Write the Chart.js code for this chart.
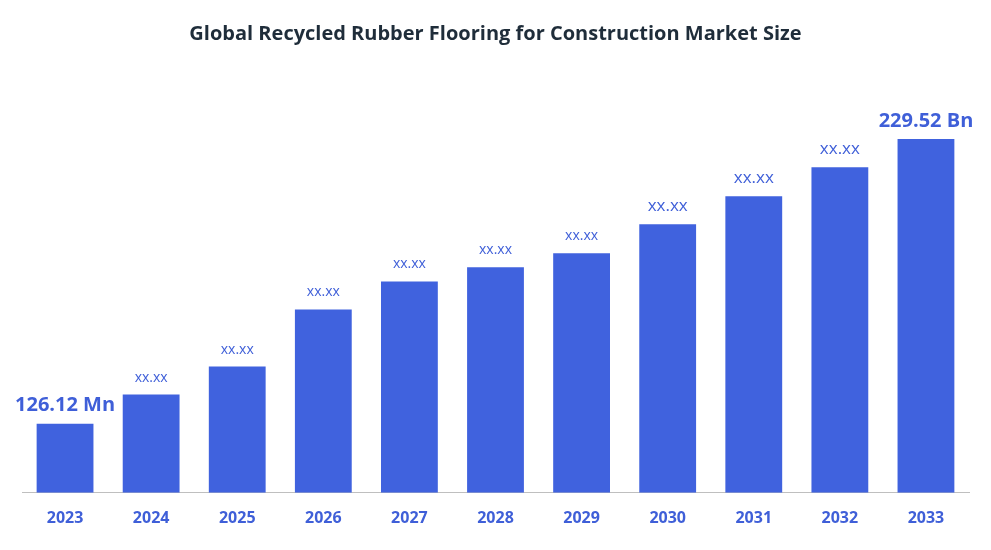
<!DOCTYPE html>
<html>
<head>
<meta charset="utf-8">
<script src="https://cdn.jsdelivr.net/npm/chart.js@4"></script>
<style>
  body { margin: 0; background: #fff; }
  #wrap { width: 991px; height: 550px; position: relative; }
</style>
</head>
<body>
<div id="wrap"><canvas id="chart"></canvas></div>
<script>
// Market size bars (relative heights)
const years = ['2023', '2024', '2025', '2026', '2027', '2028', '2029', '2030', '2031', '2032', '2033'];
const sizes = [69, 98, 126, 183, 211, 225, 239, 268, 296, 325, 353];
const barLabels = ['126.12 Mn', 'xx.xx', 'xx.xx', 'xx.xx', 'xx.xx', 'xx.xx', 'xx.xx', 'xx.xx', 'xx.xx', 'xx.xx', '229.52 Bn'];
const labelSizes = [20, 14, 14, 14, 14, 14, 14, 17, 17, 17, 20];

const blue = '#4062DE';
const textBlue = '#3F5FD8';

// Draw the value labels above each bar
const valueLabels = {
    id: 'valueLabels',
    afterDatasetsDraw(chart) {
        const ctx = chart.ctx;
        const meta = chart.getDatasetMeta(0);
        ctx.save();
        ctx.textAlign = 'center';
        ctx.textBaseline = 'bottom';
        meta.data.forEach((bar, i) => {
            const big = labelSizes[i] >= 20;
            ctx.font = (big ? 'bold ' : '') + labelSizes[i] + 'px "Open Sans", sans-serif';
            ctx.fillStyle = textBlue;
            ctx.fillText(barLabels[i], bar.x, bar.y - (big ? 8 : 10));
        });
        ctx.restore();
    }
};

new Chart(document.getElementById('chart'), {
    type: 'bar',
    data: {
        labels: years,
        datasets: [{
            data: sizes,
            backgroundColor: blue,
            barPercentage: 0.66,
            categoryPercentage: 1
        }]
    },
    options: {
        responsive: true,
        maintainAspectRatio: false,
        animation: false,
        layout: { padding: { left: 22, right: 22, top: 16, bottom: 6 } },
        plugins: {
            legend: { display: false },
            tooltip: { enabled: false },
            title: {
                display: true,
                text: 'Global Recycled Rubber Flooring for Construction Market Size',
                color: '#1F2D3A',
                font: { family: '"Open Sans", sans-serif', size: 20, weight: 'bold' },
                padding: { top: 6, bottom: 30 }
            }
        },
        scales: {
            x: {
                grid: { display: false, drawTicks: false },
                border: { color: '#BFBFBF', width: 1 },
                ticks: {
                    color: textBlue,
                    padding: 16,
                    font: { family: '"Open Sans", sans-serif', size: 16, weight: 'bold' }
                }
            },
            y: {
                display: false,
                min: 0,
                max: 416
            }
        }
    },
    plugins: [valueLabels]
});
</script>
</body>
</html>
